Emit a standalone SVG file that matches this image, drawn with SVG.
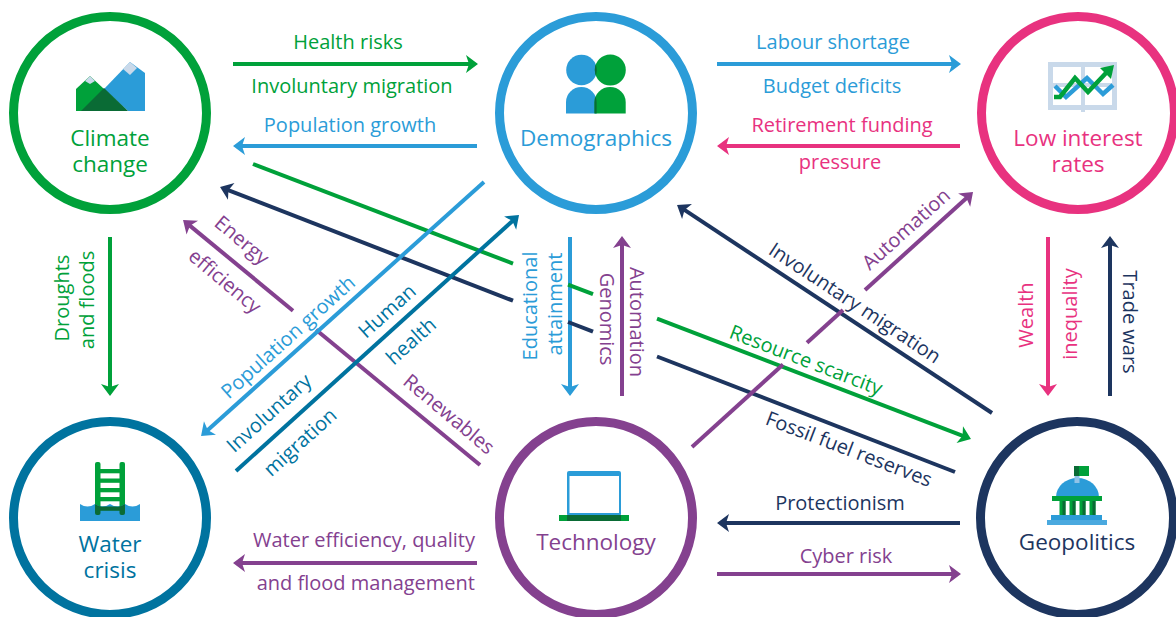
<svg xmlns="http://www.w3.org/2000/svg" width="1176" height="617" viewBox="0 0 1176 617">
<style>
text{font-family:"Open Sans","Noto Sans","DejaVu Sans",sans-serif;font-size:20px;text-anchor:middle}
.nl{font-size:22.5px}
.ring{fill:#fff;stroke-width:9}
.c{fill:none;stroke-width:4}
.g{stroke:#00a13a}.b{stroke:#2b9cd8}.p{stroke:#e8327f}.t{stroke:#00739f}.u{stroke:#84418f}.n{stroke:#1d355f}
.fg{fill:#00a13a}.fb{fill:#2b9cd8}.fp{fill:#e8327f}.ft{fill:#00739f}.fu{fill:#84418f}.fn{fill:#1d355f}
</style>
<defs>
<marker id="mg" viewBox="-6 -10 16 20" markerWidth="16" markerHeight="20" refX="0" refY="0" orient="auto" markerUnits="userSpaceOnUse"><path d="M8,0 L-4,-9 L-1,0 L-4,9Z" fill="#00a13a"/></marker>
<marker id="mb" viewBox="-6 -10 16 20" markerWidth="16" markerHeight="20" refX="0" refY="0" orient="auto" markerUnits="userSpaceOnUse"><path d="M8,0 L-4,-9 L-1,0 L-4,9Z" fill="#2b9cd8"/></marker>
<marker id="mp" viewBox="-6 -10 16 20" markerWidth="16" markerHeight="20" refX="0" refY="0" orient="auto" markerUnits="userSpaceOnUse"><path d="M8,0 L-4,-9 L-1,0 L-4,9Z" fill="#e8327f"/></marker>
<marker id="mt" viewBox="-6 -10 16 20" markerWidth="16" markerHeight="20" refX="0" refY="0" orient="auto" markerUnits="userSpaceOnUse"><path d="M8,0 L-4,-9 L-1,0 L-4,9Z" fill="#00739f"/></marker>
<marker id="mu" viewBox="-6 -10 16 20" markerWidth="16" markerHeight="20" refX="0" refY="0" orient="auto" markerUnits="userSpaceOnUse"><path d="M8,0 L-4,-9 L-1,0 L-4,9Z" fill="#84418f"/></marker>
<marker id="mn" viewBox="-6 -10 16 20" markerWidth="16" markerHeight="20" refX="0" refY="0" orient="auto" markerUnits="userSpaceOnUse"><path d="M8,0 L-4,-9 L-1,0 L-4,9Z" fill="#1d355f"/></marker>
<clipPath id="blueP"><circle cx="581.5" cy="70" r="15.3"/><path d="M566,113.5 V102 a15.3,15 0 0 1 30.6,0 V113.5Z"/></clipPath>
<clipPath id="water"><path d="M80,521 V504 q7.5,5 15,0 q7.5,5 15,0 q7.5,5 15,0 q7.5,5 15,0 V521Z"/></clipPath>
</defs>
<rect width="1176" height="617" fill="#fff"/>

<g id="connectors">
<line class="c g" x1="233" y1="64" x2="470" y2="64" marker-end="url(#mg)"/>
<line class="c b" x1="477" y1="146" x2="241" y2="146" marker-end="url(#mb)"/>
<line class="c b" x1="717" y1="64" x2="953" y2="64" marker-end="url(#mb)"/>
<line class="c p" x1="960" y1="146" x2="725" y2="146" marker-end="url(#mp)"/>
<line class="c u" x1="477" y1="563" x2="241" y2="563" marker-end="url(#mu)"/>
<line class="c n" x1="960" y1="523" x2="725" y2="523" marker-end="url(#mn)"/>
<line class="c u" x1="717" y1="574" x2="953" y2="574" marker-end="url(#mu)"/>
<line class="c g" x1="110" y1="237" x2="110" y2="388" marker-end="url(#mg)"/>
<line class="c p" x1="1048" y1="237" x2="1048" y2="388" marker-end="url(#mp)"/>
<line class="c n" x1="1110" y1="396" x2="1110" y2="244" marker-end="url(#mn)"/>
<line class="c b" x1="570" y1="237" x2="570" y2="388" marker-end="url(#mb)"/>
<line class="c u" x1="622" y1="396" x2="622" y2="244" marker-end="url(#mu)"/>
<line class="c g" x1="253" y1="164" x2="513" y2="263.6"/>
<line class="c g" x1="568" y1="284.6" x2="593" y2="294.2"/>
<line class="c g" x1="657" y1="318.7" x2="963.5" y2="436.1" marker-end="url(#mg)"/>
<line class="c n" x1="955" y1="472" x2="657" y2="356.5"/>
<line class="c n" x1="593" y1="331.7" x2="568" y2="322"/>
<line class="c n" x1="513" y1="300.7" x2="227.5" y2="189.9" marker-end="url(#mn)"/>
<line class="c u" x1="480" y1="465" x2="316" y2="329.7"/>
<line class="c u" x1="293" y1="310.7" x2="189.2" y2="225.1" marker-end="url(#mu)"/>
<line class="c b" x1="484" y1="182" x2="207" y2="430.7" marker-end="url(#mb)"/>
<line class="c t" x1="236" y1="471" x2="513.1" y2="220.4" marker-end="url(#mt)"/>
<line class="c n" x1="992" y1="413" x2="683.7" y2="209.4" marker-end="url(#mn)"/>
<line class="c u" x1="692" y1="447" x2="783" y2="364.5"/>
<line class="c u" x1="807" y1="342.7" x2="843" y2="310"/>
<line class="c u" x1="865" y1="290" x2="967.1" y2="197.4" marker-end="url(#mu)"/>
</g>

<g id="connector-labels">
<text class="fg" x="348" y="49">Health risks</text>
<text class="fg" x="352" y="93">Involuntary migration</text>
<text class="fb" x="350" y="132">Population growth</text>
<text class="fb" x="833" y="49">Labour shortage</text>
<text class="fb" x="832" y="93">Budget deficits</text>
<text class="fp" x="842" y="132">Retirement funding</text>
<text class="fp" x="840" y="169">pressure</text>
<text class="fu" x="475" y="547" style="text-anchor:end">Water efficiency, quality</text>
<text class="fu" x="475" y="590" style="text-anchor:end">and flood management</text>
<text class="fn" x="840" y="510">Protectionism</text>
<text class="fu" x="846" y="563">Cyber risk</text>
<text class="fg" transform="translate(62,298) rotate(-90)" y="7">Droughts</text>
<text class="fg" transform="translate(87,300) rotate(-90)" y="7">and floods</text>
<text class="fp" transform="translate(1026,315) rotate(-90)" y="7">Wealth</text>
<text class="fp" transform="translate(1070,314) rotate(-90)" y="7">inequality</text>
<text class="fn" transform="translate(1130,322) rotate(90)" y="7">Trade wars</text>
<text class="fb" transform="translate(530,306) rotate(-90)" y="7">Educational</text>
<text class="fb" transform="translate(555,304) rotate(-90)" y="7">attainment</text>
<text class="fu" transform="translate(607,319) rotate(90)" y="7">Genomics</text>
<text class="fu" transform="translate(637,322) rotate(90)" y="7">Automation</text>
<text class="fu" transform="translate(242,240) rotate(40)" y="7">Energy</text>
<text class="fu" transform="translate(225,281) rotate(40)" y="7">efficiency</text>
<text class="fu" transform="translate(449,414) rotate(40)" y="7">Renewables</text>
<text class="fb" transform="translate(288,337) rotate(-42)" y="7">Population growth</text>
<text class="ft" transform="translate(387,311) rotate(-42)" y="7">Human</text>
<text class="ft" transform="translate(411,341) rotate(-42)" y="7">health</text>
<text class="ft" transform="translate(269,413) rotate(-42)" y="7">Involuntary</text>
<text class="ft" transform="translate(300,442) rotate(-42)" y="7">migration</text>
<text class="fg" transform="translate(806,360) rotate(21)" y="7">Resource scarcity</text>
<text class="fn" transform="translate(849,449) rotate(21)" y="7">Fossil fuel reserves</text>
<text class="fn" transform="translate(855,303) rotate(33.5)" y="7">Involuntary migration</text>
<text class="fu" transform="translate(906,229) rotate(-42)" y="7">Automation</text>
</g>

<g id="climate-change">
<circle class="ring g" cx="110" cy="113" r="96.5"/>
<polygon points="76,111 76,89 90,76 104,89 83,111" fill="#00a13a"/>
<polygon points="104,89 130,62 145,73 145,111 128,111" fill="#2b9cd8"/>
<polygon points="81,111 104,88 128,111" fill="#0a6b35"/>
<polygon points="85,81 90,76 95,81 90,84" fill="#c9d9ea"/>
<polygon points="123,69 130,62 137,68 130,75" fill="#c9d9ea"/>
<text class="nl fg" x="110" y="146">Climate</text>
<text class="nl fg" x="110" y="172">change</text>
</g>

<g id="demographics">
<circle class="ring b" cx="596" cy="113" r="96.5"/>
<circle cx="581.5" cy="70" r="15.3" fill="#2b9cd8"/>
<path d="M566,113.5 V102 a15.3,15 0 0 1 30.6,0 V113.5Z" fill="#2b9cd8"/>
<circle cx="610.3" cy="70" r="15.5" fill="#00a13a"/>
<path d="M594.5,113.5 V102 a15.6,15 0 0 1 31.2,0 V113.5Z" fill="#00a13a"/>
<g clip-path="url(#blueP)" fill="#0a6b35">
<circle cx="610.3" cy="70" r="15.5"/>
<path d="M594.5,113.5 V102 a15.6,15 0 0 1 31.2,0 V113.5Z"/>
</g>
<text class="nl fb" x="596" y="146">Demographics</text>
</g>

<g id="low-interest-rates">
<circle class="ring p" cx="1078" cy="113" r="96.5"/>
<rect x="1050.5" y="64.5" width="64" height="43" fill="#fff" stroke="#c9d9ea" stroke-width="5"/>
<rect x="1053" y="83" width="59" height="4" fill="#c9d9ea"/>
<rect x="1081" y="62" width="4" height="50" fill="#c9d9ea"/>
<polyline points="1055,86 1066,97 1087,78 1103,94 1113,85" fill="none" stroke="#2b9cd8" stroke-width="4.5"/>
<polyline points="1054,97 1060,97 1075,78 1088,92 1106,73" fill="none" stroke="#00a13a" stroke-width="4.5"/>
<polygon points="1114,65 1100,68 1111,79" fill="#00a13a"/>
<text class="nl fp" x="1078" y="146">Low interest</text>
<text class="nl fp" x="1078" y="172">rates</text>
</g>

<g id="water-crisis">
<circle class="ring t" cx="110" cy="518" r="96.5"/>
<g fill="#00a13a">
<rect x="95" y="462" width="5.5" height="53" rx="2"/>
<rect x="119.5" y="462" width="5.5" height="53" rx="2"/>
<rect x="100" y="469" width="20" height="4.3"/>
<rect x="100" y="478.5" width="20" height="4.3"/>
<rect x="100" y="488" width="20" height="4.3"/>
<rect x="100" y="497" width="20" height="4.3"/>
<rect x="100" y="506.5" width="20" height="4.3"/>
</g>
<path d="M80,521 V504 q7.5,5 15,0 q7.5,5 15,0 q7.5,5 15,0 q7.5,5 15,0 V521Z" fill="#2b9cd8"/>
<g fill="#0a6b35" clip-path="url(#water)">
<rect x="95" y="462" width="5.5" height="53" rx="2"/>
<rect x="119.5" y="462" width="5.5" height="53" rx="2"/>
<rect x="100" y="506.5" width="20" height="4.3"/>
</g>
<text class="nl ft" x="110" y="552">Water</text>
<text class="nl ft" x="110" y="578">crisis</text>
</g>

<g id="technology">
<circle class="ring u" cx="596" cy="518" r="96.5"/>
<rect x="567" y="471" width="54" height="45" rx="2" fill="#2b9cd8"/>
<rect x="569.5" y="476" width="49.5" height="37" fill="#fff"/>
<rect x="559" y="515" width="70" height="6" fill="#00a13a"/>
<rect x="567" y="515" width="54" height="6" fill="#0a6b35"/>
<text class="nl fu" x="596" y="550">Technology</text>
</g>

<g id="geopolitics">
<circle class="ring n" cx="1077" cy="518" r="96.5"/>
<rect x="1074" y="466" width="15" height="10" fill="#00a13a"/>
<rect x="1074" y="466" width="5" height="10" fill="#0a6b35"/>
<path d="M1056,497 A21.5,19 0 0 1 1099,497 Z" fill="#2b9cd8"/>
<rect x="1074.5" y="476" width="5" height="7" fill="#8fc3e8"/>
<rect x="1052" y="496" width="50" height="5" fill="#00a13a"/>
<g fill="#00a13a">
<rect x="1059.5" y="501" width="6" height="14"/>
<rect x="1069.5" y="501" width="6" height="14"/>
<rect x="1079.5" y="501" width="6" height="14"/>
<rect x="1089.5" y="501" width="6" height="14"/>
</g>
<g fill="#0a6b35">
<rect x="1062.5" y="501" width="3" height="14"/>
<rect x="1072.5" y="501" width="3" height="14"/>
<rect x="1082.5" y="501" width="3" height="14"/>
<rect x="1092.5" y="501" width="3" height="14"/>
</g>
<rect x="1051" y="515" width="51" height="5" fill="#2b9cd8"/>
<rect x="1047" y="520" width="60" height="5" fill="#4aa9df"/>
<text class="nl fn" x="1077" y="550">Geopolitics</text>
</g>
</svg>
